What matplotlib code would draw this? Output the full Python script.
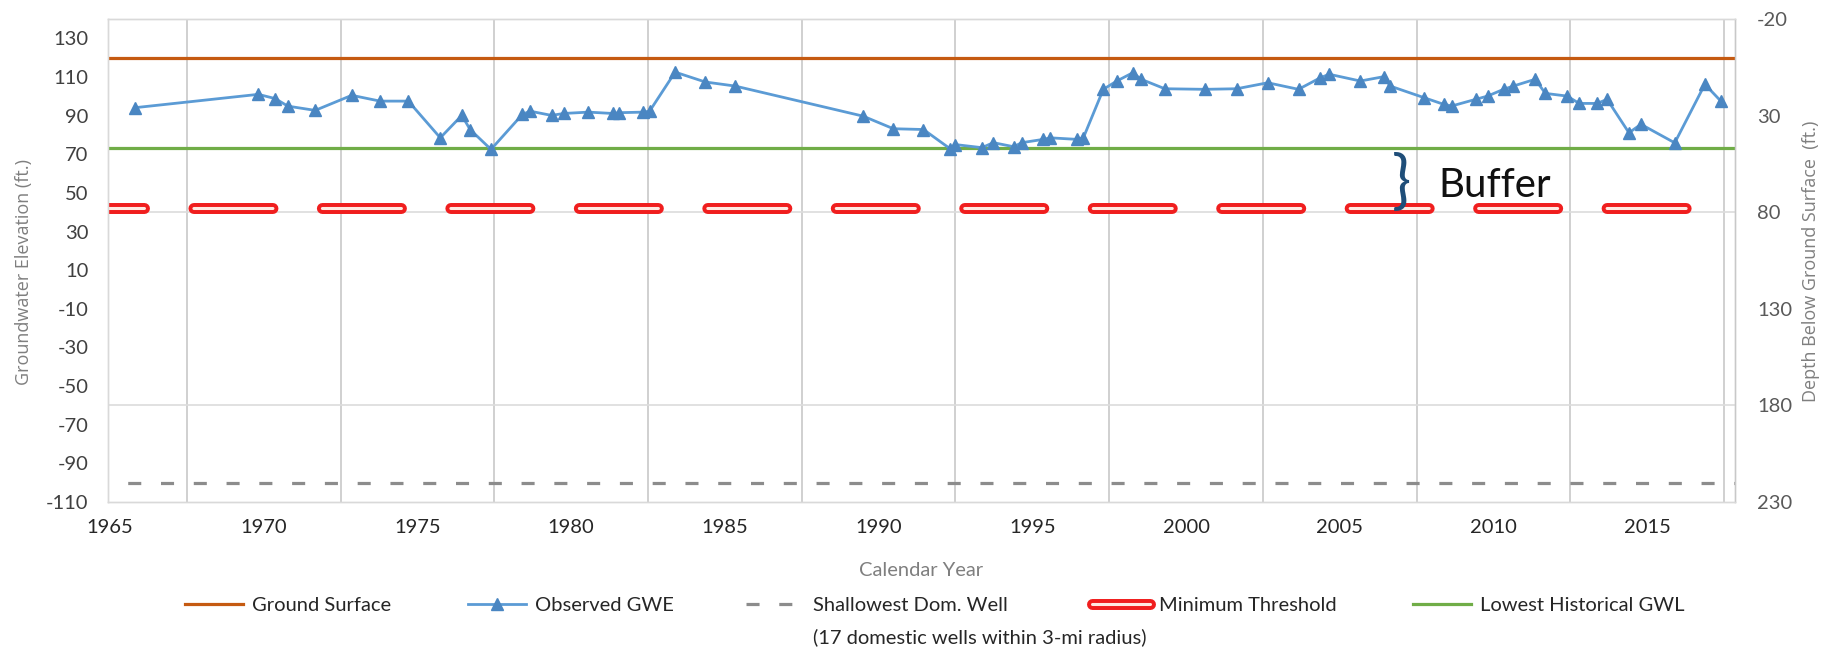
import matplotlib
matplotlib.use("Agg")
import matplotlib.pyplot as plt
from matplotlib.lines import Line2D
from matplotlib.legend_handler import HandlerTuple
import numpy as np

plt.rcParams['font.family'] = ['Lato', 'DejaVu Sans']
plt.rcParams['axes.unicode_minus'] = False
plt.rcParams['lines.scale_dashes'] = False

# ---------------- data ----------------
obs_years = [1965.81, 1969.82, 1970.37, 1970.78, 1971.67, 1972.86, 1973.78, 1974.70,
             1975.74, 1976.44, 1976.71, 1977.39, 1978.41, 1978.66, 1979.36, 1979.75,
             1980.56, 1981.35, 1981.55, 1982.35, 1982.55, 1983.38, 1984.36, 1985.33,
             1989.50, 1990.48, 1991.46, 1992.33, 1992.50, 1993.36, 1993.73, 1994.39,
             1994.66, 1995.36, 1995.58, 1996.45, 1996.66, 1997.31, 1997.75, 1998.27,
             1998.54, 1999.31, 2000.61, 2001.65, 2002.66, 2003.66, 2004.37, 2004.66,
             2005.67, 2006.45, 2006.64, 2007.74, 2008.39, 2008.65, 2009.42, 2009.81,
             2010.33, 2010.65, 2011.36, 2011.69, 2012.40, 2012.79, 2013.37, 2013.70,
             2014.41, 2014.80, 2015.90, 2016.88, 2017.40]
obs_gwe = [94.1, 101.0, 98.8, 94.9, 92.7, 100.5, 97.5, 97.5,
           78.5, 90.1, 82.8, 72.5, 90.6, 92.3, 90.1, 91.1,
           91.8, 91.1, 91.5, 91.8, 92.3, 112.5, 107.4, 105.3,
           89.7, 83.2, 82.8, 72.8, 75.0, 73.4, 76.0, 73.9,
           76.0, 77.7, 78.5, 77.7, 78.5, 103.6, 107.9, 112.2,
           108.8, 103.9, 103.6, 103.9, 107.0, 103.6, 109.6, 111.4,
           107.9, 110.2, 105.3, 99.3, 95.8, 95.0, 98.4, 100.1,
           103.6, 105.3, 108.8, 101.5, 100.1, 96.3, 96.3, 98.4,
           81.1, 85.5, 75.9, 106.2, 97.5]

ground_surface = 120
lowest_historical = 73
minimum_threshold = 42
shallowest_well = -100

x_range = [1964.93, 2017.86]
x_ticks = [1965, 1970, 1975, 1980, 1985, 1990, 1995, 2000, 2005, 2010, 2015]
x_grid = [1967.5, 1972.5, 1977.5, 1982.5, 1987.5, 1992.5, 1997.5, 2002.5, 2007.5, 2012.5, 2017.5]
elev_range = [-110, 140]
elev_ticks = [-110, -90, -70, -50, -30, -10, 10, 30, 50, 70, 90, 110, 130]
depth_ticks = [-20, 30, 80, 130, 180, 230]

legend_labels = ['Ground Surface', 'Observed GWE', 'Shallowest Dom. Well',
                 'Minimum Threshold', 'Lowest Historical GWL']
legend_note = '(17 domestic wells within 3-mi radius)'

# ---------------- figure ----------------
W, H = 1843, 647
fig = plt.figure(figsize=(W / 100, H / 100), dpi=100)
L, R, T, B = 108, 1735, 19, 502
ax = fig.add_axes([L / W, 1 - B / H, (R - L) / W, (B - T) / H])

ax.set_xlim(*x_range)
ax.set_ylim(*elev_range)

# vertical grid
ax.set_xticks(x_ticks)
ax.set_xticks(x_grid, minor=True)
ax.grid(which='minor', axis='x', color='#c8c8c8', lw=1.2)
# horizontal grid at depth ticks (mapped to elevation)
ax.set_yticks(elev_ticks)
ax.set_yticks([ground_surface - d for d in depth_ticks[1:-1]], minor=True)
ax.grid(which='minor', axis='y', color='#dcdcdc', lw=1.2)
ax.set_axisbelow(True)
ax.tick_params(which='both', length=0)
ax.tick_params(axis='y', labelsize=14.5, labelcolor='#404040', pad=14)
ax.tick_params(axis='x', labelsize=14.5, labelcolor='#262626', pad=12)
for s in ax.spines.values():
    s.set_color('#d9d9d9')
    s.set_linewidth(1.0)

# lines
ax.axhline(ground_surface, color='#C55A11', lw=2.3, zorder=3)
ax.axhline(lowest_historical, color='#70AD47', lw=2.3, zorder=3)
ax.axhline(shallowest_well, color='#8C8C8C', lw=2.3, zorder=3,
           linestyle=(9.4, (9.4, 14.2)))
mt_style = (31, (56.9, 35.6))
ax.axhline(minimum_threshold, color='#F01E1E', lw=7.9, zorder=3,
           linestyle=mt_style, dash_capstyle='round')
ax.axhline(minimum_threshold, color='#FFE9E2', lw=2.2, zorder=3.1,
           linestyle=mt_style, dash_capstyle='round')
ax.plot(obs_years, obs_gwe, color='#5B9BD5', lw=2.0, marker='^', ms=8,
        mfc='#4A86C2', mec='#4A86C2', zorder=4)

# right axis
ax2 = ax.twinx()
ax2.set_ylim(ground_surface - elev_range[0], ground_surface - elev_range[1])
ax2.set_yticks(depth_ticks)
ax2.tick_params(length=0, labelsize=14.5, labelcolor='#595959', pad=16)
for s in ax2.spines.values():
    s.set_color('#d9d9d9')
    s.set_linewidth(1.0)
ax2.spines['right'].set_color('#c8c8c8')

# axis labels
ax.set_ylabel('Groundwater Elevation (ft.)', family=['Open Sans', 'DejaVu Sans'],
              fontsize=13, color='#7f7f7f', ha='center', va='center')
ax.yaxis.set_label_coords((24 - L) / (R - L), (B - 272) / (B - T))
ax2.set_ylabel('Depth Below Ground Surface  (ft.)', family=['Open Sans', 'DejaVu Sans'],
               fontsize=13, color='#7f7f7f', ha='center', va='center', rotation=90)
ax2.yaxis.set_label_coords((1811 - L) / (R - L), (B - 261) / (B - T))
ax.set_xlabel('Calendar Year', fontsize=14.5, color='#7f7f7f', va='center')
ax.xaxis.set_label_coords(0.5, (B - 570) / (B - T))

# Buffer annotation
ax.text(2007.0, 55.0, '}', family=['Lato', 'DejaVu Sans'], fontweight='normal',
        fontsize=46, color='#1F4E79', ha='center', va='center', zorder=6)
ax.text(2008.2, 54.0, 'Buffer', family=['Lato', 'DejaVu Sans'], fontweight='normal',
        fontsize=29, color='#111111', ha='left', va='center', zorder=6)

# legend
h_gs = Line2D([], [], color='#C55A11', lw=2.3)
h_obs = Line2D([], [], color='#5B9BD5', lw=2.0, marker='^', ms=8,
               mfc='#4A86C2', mec='#4A86C2')
h_sh = Line2D([], [], color='#8C8C8C', lw=2.3, linestyle=(0, (9.4, 14.2)))
h_mt = (Line2D([], [], color='#F01E1E', lw=7.9, solid_capstyle='round'),
        Line2D([], [], color='#FFE9E2', lw=2.2, solid_capstyle='round'))
h_lo = Line2D([], [], color='#70AD47', lw=2.3)
handles = [h_gs, h_obs, h_sh, h_mt, h_lo]
starts = [185, 468, 746, 1092, 1413]
leg_y = 1 - 605 / H
for hnd, lab, xs in zip(handles, legend_labels, starts):
    lg = fig.legend([hnd], [lab], loc='center left', bbox_to_anchor=(xs / W, leg_y),
                    frameon=False, borderpad=0, borderaxespad=0, fontsize=14.5,
                    handlelength=2.9, handletextpad=0.45,
                    handler_map={tuple: HandlerTuple(ndivide=1)})
    for t in lg.get_texts():
        t.set_color('#262626')
fig.text(813 / W, 1 - 637 / H, legend_note, fontsize=14.5, color='#262626',
         ha='left', va='center')

fig.savefig('out.png', dpi=100)
